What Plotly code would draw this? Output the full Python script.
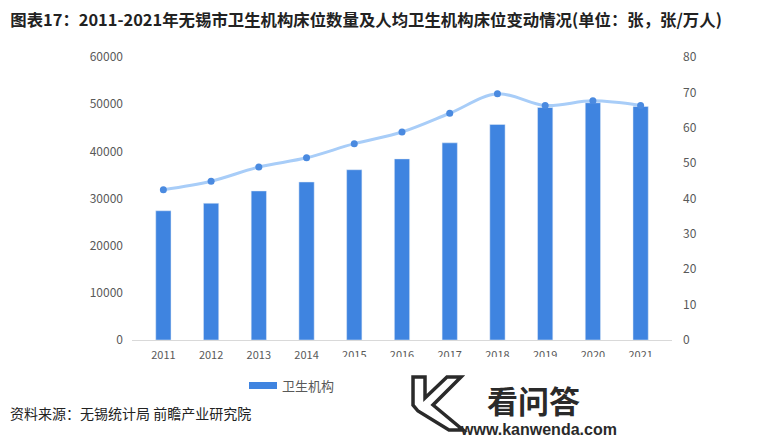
import plotly.graph_objects as go

years = ["2011", "2012", "2013", "2014", "2015", "2016", "2017", "2018", "2019", "2020", "2021"]
beds = [27400, 29000, 31600, 33500, 36100, 38400, 41800, 45700, 49300, 50300, 49500]
beds_per_10k = [42.5, 44.9, 48.9, 51.5, 55.5, 58.8, 64.1, 69.6, 66.3, 67.6, 66.3]

FONT = "Noto Sans CJK SC"

# plot area in screenshot pixels (page body adds an 8px offset)
OFF = 8
L, R, T, B = 132, 672, 57, 340
def px(x):
    return (x - L) / (R - L)
def py(y):
    return (B - y) / (B - T)

fig = go.Figure()
fig.add_trace(go.Bar(
    x=years, y=beds, name="卫生机构床位数量（张）",
    marker=dict(color="#3f84e0"), width=0.32, showlegend=False,
))
fig.add_trace(go.Scatter(
    x=years, y=beds_per_10k, name="人均卫生机构床位（张/万人）", yaxis="y2",
    mode="lines+markers", line=dict(color="#a8cdf8", width=3, shape="spline"),
    marker=dict(color="#4a8ae0", size=7), showlegend=False,
))

fig.update_layout(
    width=760, height=439,
    margin=dict(l=L - OFF, r=760 - (R - OFF), t=T - OFF, b=439 - (B - OFF)),
    paper_bgcolor="white", plot_bgcolor="white",
    font=dict(family=FONT, color="#595959", size=11),
    title=dict(
        text="<b>图表17：2011-2021年无锡市卫生机构床位数量及人均卫生机构床位变动情况(单位：张，张/万人)</b>",
        x=0.003, xanchor="left", y=1 - 12 / 439, yanchor="middle",
        font=dict(family=FONT, size=16.4, color="#222222"),
    ),
    xaxis=dict(showline=True, linecolor="#d9d9d9", ticks="", showgrid=False, automargin=False,
               tickfont=dict(size=11, color="#595959"), ticklabelstandoff=5),
    yaxis=dict(range=[0, 60000], dtick=10000, tickformat="d", showgrid=False, zeroline=False,
               automargin=False, tickfont=dict(size=12, color="#595959"), ticklabelstandoff=8),
    yaxis2=dict(range=[0, 80], dtick=10, overlaying="y", side="right", showgrid=False,
                zeroline=False, automargin=False, tickfont=dict(size=12, color="#595959"),
                ticklabelstandoff=10),
    showlegend=False,
)

# legend (only the bar item is visible, the rest is covered by the site logo)
fig.add_shape(type="rect", xref="paper", yref="paper", x0=px(249), x1=px(277), y0=py(389), y1=py(382),
              fillcolor="#3f84e0", line=dict(width=0))
fig.add_annotation(text="卫生机构", xref="paper", yref="paper", x=px(280), y=py(385),
                   xanchor="left", yanchor="middle", showarrow=False,
                   font=dict(size=13, color="#595959"))

# source note
fig.add_annotation(text="资料来源：无锡统计局 前瞻产业研究院", xref="paper", yref="paper",
                   x=px(8), y=py(413), xanchor="left", yanchor="middle", showarrow=False,
                   font=dict(size=14, color="#222222"))

# site logo overlay
fig.add_shape(type="rect", xref="paper", yref="paper", x0=px(327), x1=px(675), y0=py(445), y1=py(357),
              fillcolor="white", line=dict(width=0), layer="above")
k_pts = [(413, 377), (425, 377), (425, 398), (447, 377), (461, 377), (433, 405),
         (463, 430), (449, 430), (418, 411), (413, 405)]
k_path = "M " + " L ".join(f"{px(x):.4f},{py(y):.4f}" for x, y in k_pts) + " Z"
fig.add_shape(type="path", xref="paper", yref="paper", path=k_path,
              fillcolor="white", line=dict(color="#2a2a2a", width=3.5), layer="above")
fig.add_annotation(text="<b>看问答</b>", xref="paper", yref="paper", x=px(485), y=py(399),
                   xanchor="left", yanchor="middle", showarrow=False,
                   font=dict(size=31, color="#2a2a2a"))
fig.add_annotation(text="<b>www.kanwenda.com</b>", xref="paper", yref="paper", x=px(458), y=py(429),
                   xanchor="left", yanchor="middle", showarrow=False,
                   font=dict(size=16, color="#2a2a2a", family="Liberation Sans"))

fig.write_html("out.html")
